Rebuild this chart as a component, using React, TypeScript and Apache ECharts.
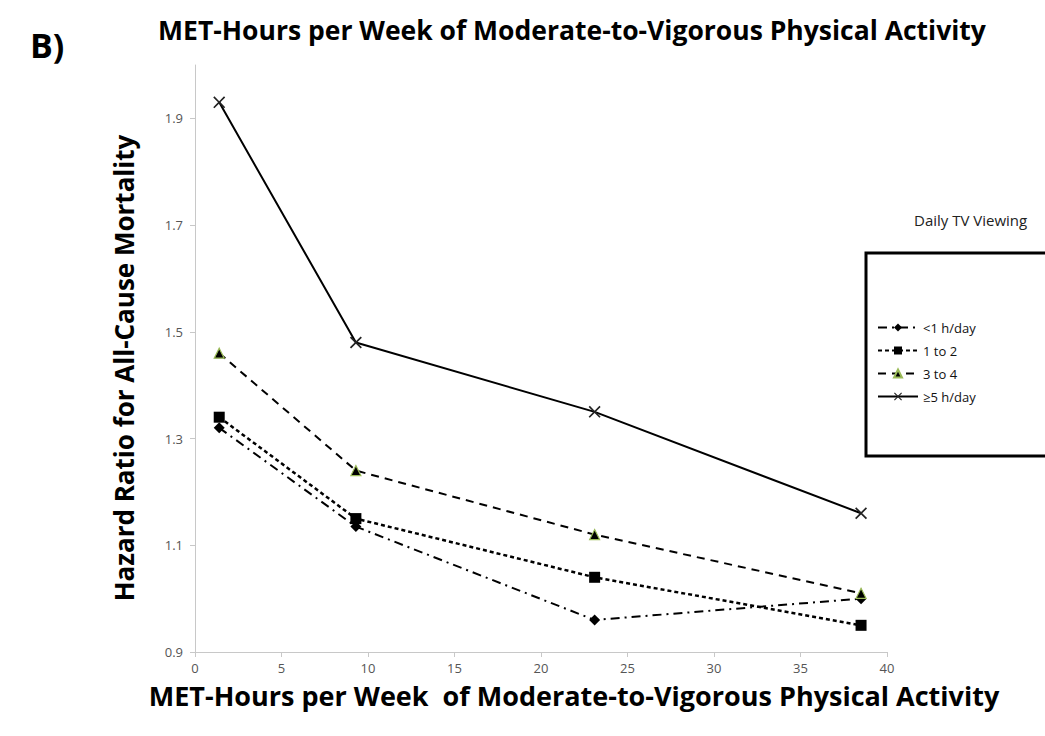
import React, { useEffect, useRef } from "react";
import * as echarts from "echarts";

const metHours = [1.4, 9.3, 23.1, 38.5];
const lessThan1 = [1.32, 1.135, 0.96, 1.0];
const oneToTwo = [1.34, 1.15, 1.04, 0.95];
const threeToFour = [1.46, 1.24, 1.12, 1.01];
const fiveOrMore = [1.93, 1.48, 1.35, 1.16];
const seriesNames = ["<1 h/day", "1 to 2", "3 to 4", "≥5 h/day"];
const yTickValues = [0.9, 1.1, 1.3, 1.5, 1.7, 1.9];

const FONT = "'Open Sans', 'DejaVu Sans', sans-serif";
const CROSS =
  "path://M0,1L1,0L5,4L9,0L10,1L6,5L10,9L9,10L5,6L1,10L0,9L4,5Z";

function pairs(ys: number[]) {
  return metHours.map((x, i) => [x, ys[i]]);
}

export default function App() {
  const ref = useRef<HTMLDivElement>(null);
  useEffect(() => {
    if (!ref.current) return;
    const chart = echarts.init(ref.current, undefined, { renderer: "svg" });
    chart.setOption({
      animation: false,
      backgroundColor: "#ffffff",
      grid: { left: 195, right: 158, top: 65, bottom: 84 },
      xAxis: {
        type: "value",
        min: 0,
        max: 40,
        interval: 5,
        axisLine: { show: true, lineStyle: { color: "#c8c8c8", width: 1 } },
        axisTick: { show: true, length: 5, lineStyle: { color: "#c8c8c8" } },
        axisLabel: { color: "#555", fontSize: 13, fontFamily: FONT, margin: 9 },
        splitLine: { show: false },
      },
      yAxis: {
        type: "value",
        min: 0.9,
        max: 2.0,
        axisLine: { show: true, lineStyle: { color: "#c8c8c8", width: 1 } },
        axisTick: {
          show: true,
          length: 5,
          lineStyle: { color: "#c8c8c8" },
          customValues: yTickValues,
        },
        axisLabel: {
          color: "#555",
          fontSize: 13,
          fontFamily: FONT,
          margin: 12,
          customValues: yTickValues,
          formatter: (v: number) => v.toFixed(1),
        },
        splitLine: { show: false },
      },
      legend: {
        orient: "vertical",
        left: 872,
        top: 316,
        itemWidth: 40,
        itemHeight: 10,
        itemGap: 10,
        textStyle: { color: "#111", fontSize: 13, fontFamily: FONT },
        data: seriesNames,
      },
      graphic: [
        {
          type: "rect",
          z: -1,
          shape: { x: 866, y: 253, width: 200, height: 203 },
          style: { fill: "#ffffff", stroke: "#000", lineWidth: 3 },
        },
        {
          type: "text",
          left: 914,
          top: 212,
          style: {
            text: "Daily TV Viewing",
            fill: "#222",
            font: `15px ${FONT}`,
          },
        },
        {
          type: "text",
          left: 30,
          top: 28,
          style: { text: "B)", fill: "#000", font: `bold 34px ${FONT}` },
        },
        {
          type: "text",
          x: 572,
          y: 30,
          style: {
            text: "MET-Hours per Week of Moderate-to-Vigorous Physical Activity",
            fill: "#000",
            font: `bold 26.5px ${FONT}`,
            align: "center",
            verticalAlign: "middle",
          },
        },
        {
          type: "text",
          x: 574,
          y: 695,
          style: {
            text: "MET-Hours per Week  of Moderate-to-Vigorous Physical Activity",
            fill: "#000",
            font: `bold 27px ${FONT}`,
            align: "center",
            verticalAlign: "middle",
          },
        },
        {
          type: "text",
          x: 124,
          y: 368,
          rotation: Math.PI / 2,
          style: {
            text: "Hazard Ratio for All-Cause Mortality",
            fill: "#000",
            font: `bold 26px ${FONT}`,
            align: "center",
            verticalAlign: "middle",
          },
        },
      ],
      series: [
        {
          name: seriesNames[0],
          type: "line",
          data: pairs(lessThan1),
          symbol: "diamond",
          symbolSize: 11,
          itemStyle: { color: "#000" },
          lineStyle: { color: "#000", width: 2, type: [9, 5, 2, 5] },
        },
        {
          name: seriesNames[1],
          type: "line",
          data: pairs(oneToTwo),
          symbol: "rect",
          symbolSize: 11,
          itemStyle: { color: "#000" },
          lineStyle: { color: "#000", width: 2.5, type: [4, 3] },
        },
        {
          name: seriesNames[2],
          type: "line",
          data: pairs(threeToFour),
          symbol: "triangle",
          symbolSize: 10,
          itemStyle: { color: "#000", borderColor: "#9bbb59", borderWidth: 1.2 },
          lineStyle: { color: "#000", width: 2, type: [8, 6] },
        },
        {
          name: seriesNames[3],
          type: "line",
          data: pairs(fiveOrMore),
          symbol: CROSS,
          symbolSize: 12,
          itemStyle: { color: "#222" },
          lineStyle: { color: "#000", width: 2 },
        },
      ],
    });
    return () => chart.dispose();
  }, []);
  return <div ref={ref} style={{ width: 1045, height: 736, position: "absolute", left: 0, top: 0 }} />;
}
